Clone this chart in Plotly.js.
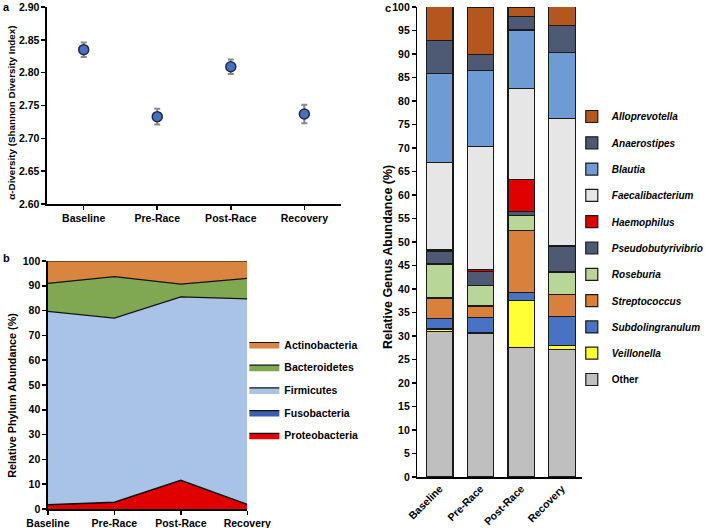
<!DOCTYPE html>
<html><head><meta charset="utf-8">
<script src="https://cdn.plot.ly/plotly-3.0.1.min.js"></script>
<style>body{margin:0;padding:0;background:#fff}#plot{width:709px;height:528px}</style>
</head><body><div id="plot"></div>
<script>
// ---- data ----
const timepoints = ["Baseline", "Pre-Race", "Post-Race", "Recovery"];

// panel a: Shannon diversity
const shannonMean = [2.835, 2.733, 2.809, 2.737];
const shannonErr  = [0.011, 0.012, 0.011, 0.014];

// panel b: phylum abundance (%)
const phylumNames = ["Proteobacteria", "Fusobacteria", "Firmicutes", "Bacteroidetes", "Actinobacteria"];
const proteobacteria = [1.7, 2.7, 11.5, 1.8];
const fusobacteria   = [0.1, 0.1, 0.1, 0.1];
const firmicutes     = [77.9, 74.2, 73.9, 82.8];
const bacteroidetes  = [11.3, 16.7, 5.2, 8.3];
const actinobacteria = [9.0, 6.3, 9.3, 7.0];
const phylumColors = ["#e00000", "#3b5fb0", "#a9c3e6", "#80a852", "#d9843f"];

// panel c: genus abundance (%)
const genusNames = ["Other", "Veillonella", "Subdolingranulum", "Streptococcus", "Roseburia",
  "Pseudobutyrivibrio", "Haemophilus", "Faecalibacterium", "Blautia", "Anaerostipes", "Alloprevotella"];
const other              = [31.0, 30.6, 27.5, 27.1];
const veillonella        = [0.5, 0.2, 10.0, 0.9];
const subdolingranulum   = [2.2, 3.2, 1.7, 6.1];
const streptococcus      = [4.4, 2.4, 13.2, 4.7];
const roseburia          = [7.2, 4.3, 3.3, 4.8];
const pseudobutyrivibrio = [2.8, 3.1, 0.8, 5.5];
const haemophilus        = [0.3, 0.4, 6.8, 0.1];
const faecalibacterium   = [18.5, 26.2, 19.3, 27.0];
const blautia            = [19.0, 16.1, 12.5, 14.1];
const anaerostipes       = [7.0, 3.4, 2.8, 5.7];
const alloprevotella     = [7.2, 10.1, 2.1, 4.1];
const genusColors = ["#bfbfbf", "#ffff33", "#4a72c4", "#d9803d", "#b8d698",
  "#4e5a74", "#e00000", "#e6e6e6", "#6f9bd4", "#4e5a74", "#b5561f"];

// ---- figure ----
const W = 709, H = 528;
const px = v => v / W, py = v => 1 - v / H;
const FONT = "Liberation Sans, Arial, sans-serif";
const tickFont = {family: FONT, size: 10.5, color: "#000", weight: "bold"};

const traces = [];

traces.push({
  type: "scatter", mode: "markers", x: timepoints, y: shannonMean,
  xaxis: "x", yaxis: "y", showlegend: false, hoverinfo: "skip",
  marker: {size: 10, color: "#4a6fbf", line: {color: "#1c2a4a", width: 1.5}},
  error_y: {type: "data", array: shannonErr, visible: true, color: "#8a8a8a", thickness: 2, width: 3}
});

const phylumData = [proteobacteria, fusobacteria, firmicutes, bacteroidetes, actinobacteria];
phylumData.forEach((vals, i) => {
  traces.push({
    type: "scatter", mode: "lines", x: timepoints, y: vals, stackgroup: "phy",
    xaxis: "x2", yaxis: "y2", name: phylumNames[i], legend: "legend",
    legendgroup: "p" + i, legendrank: 100 - i, hoverinfo: "skip",
    line: {color: "#111", width: 1.2}, fillcolor: phylumColors[i]
  });
});

const genusData = [other, veillonella, subdolingranulum, streptococcus, roseburia,
  pseudobutyrivibrio, haemophilus, faecalibacterium, blautia, anaerostipes, alloprevotella];
genusData.forEach((vals, i) => {
  const nm = genusNames[i] === "Other" ? "Other" : "<i>" + genusNames[i] + "</i>";
  traces.push({
    type: "bar", x: timepoints, y: vals, xaxis: "x3", yaxis: "y3",
    name: nm, legend: "legend2", legendgroup: "g" + i, legendrank: 100 - i, hoverinfo: "skip",
    width: 0.65,
    marker: {color: genusColors[i], line: {color: "#1a1a1a", width: 1.2}}
  });
});

const axLine = {showline: true, linecolor: "#000", linewidth: 1.5, ticks: "outside",
  ticklen: 4, tickwidth: 1.5, tickcolor: "#000", showgrid: false, zeroline: false,
  tickfont: tickFont, fixedrange: true, ticklabeloverflow: "allow"};

function label(text, x, y, size, angle) {
  return {text: text, x: px(x), y: py(y), xref: "paper", yref: "paper",
    xanchor: "center", yanchor: "middle", showarrow: false, textangle: angle || 0,
    font: {family: FONT, size: size, weight: "bold", color: "#000"}};
}

const layout = {
  width: W, height: H, margin: {l: 0, r: 0, t: 0, b: 0},
  paper_bgcolor: "#fff", plot_bgcolor: "rgba(0,0,0,0)",
  font: {family: FONT, color: "#000"},
  barmode: "stack", bargap: 0.35,
  xaxis: Object.assign({}, axLine, {domain: [px(48), px(349)], anchor: "y",
    type: "category", range: [-0.5, 3.5]}),
  yaxis: Object.assign({}, axLine, {domain: [py(204), py(7)], anchor: "x",
    range: [2.6, 2.9], tickvals: [2.6, 2.65, 2.7, 2.75, 2.8, 2.85, 2.9], tickformat: ".2f"}),
  xaxis2: Object.assign({}, axLine, {domain: [px(49), px(253)], anchor: "y2",
    type: "category", range: [0, 3]}),
  yaxis2: Object.assign({}, axLine, {domain: [py(509), py(261)], anchor: "x2",
    range: [0, 100], dtick: 10}),
  xaxis3: Object.assign({}, axLine, {domain: [px(427), px(595)], anchor: "y3",
    type: "category", range: [-0.55, 3.48], ticks: "", tickangle: -45}),
  yaxis3: Object.assign({}, axLine, {domain: [py(477), py(7)], anchor: "x3",
    range: [0, 100], dtick: 5}),
  legend: {x: px(250), y: py(330), xanchor: "left", yanchor: "top",
    traceorder: "grouped", tracegroupgap: 3.7, itemwidth: 30,
    font: {family: FONT, size: 10.5, weight: "bold", color: "#000"}, bgcolor: "rgba(0,0,0,0)"},
  legend2: {x: px(585), y: py(102), xanchor: "left", yanchor: "top",
    traceorder: "grouped", tracegroupgap: 7.3, itemwidth: 30,
    font: {family: FONT, size: 10, weight: "bold", color: "#000"}, bgcolor: "rgba(0,0,0,0)"},
  annotations: [
    label("a", 7, 7, 11),
    label("b", 7, 258, 11),
    label("c", 397, 8, 11),
    label("α-Diversity (Shannon Diversity Index)", 12, 113, 9.8, -90),
    label("Relative Phylum Abundance (%)", 12, 395, 10.8, -90),
    label("Relative Genus Abundance (%)", 397, 257, 12.5, -90)
  ]
};

Plotly.newPlot("plot", traces, layout, {displayModeBar: false, staticPlot: true});
</script></body></html>
